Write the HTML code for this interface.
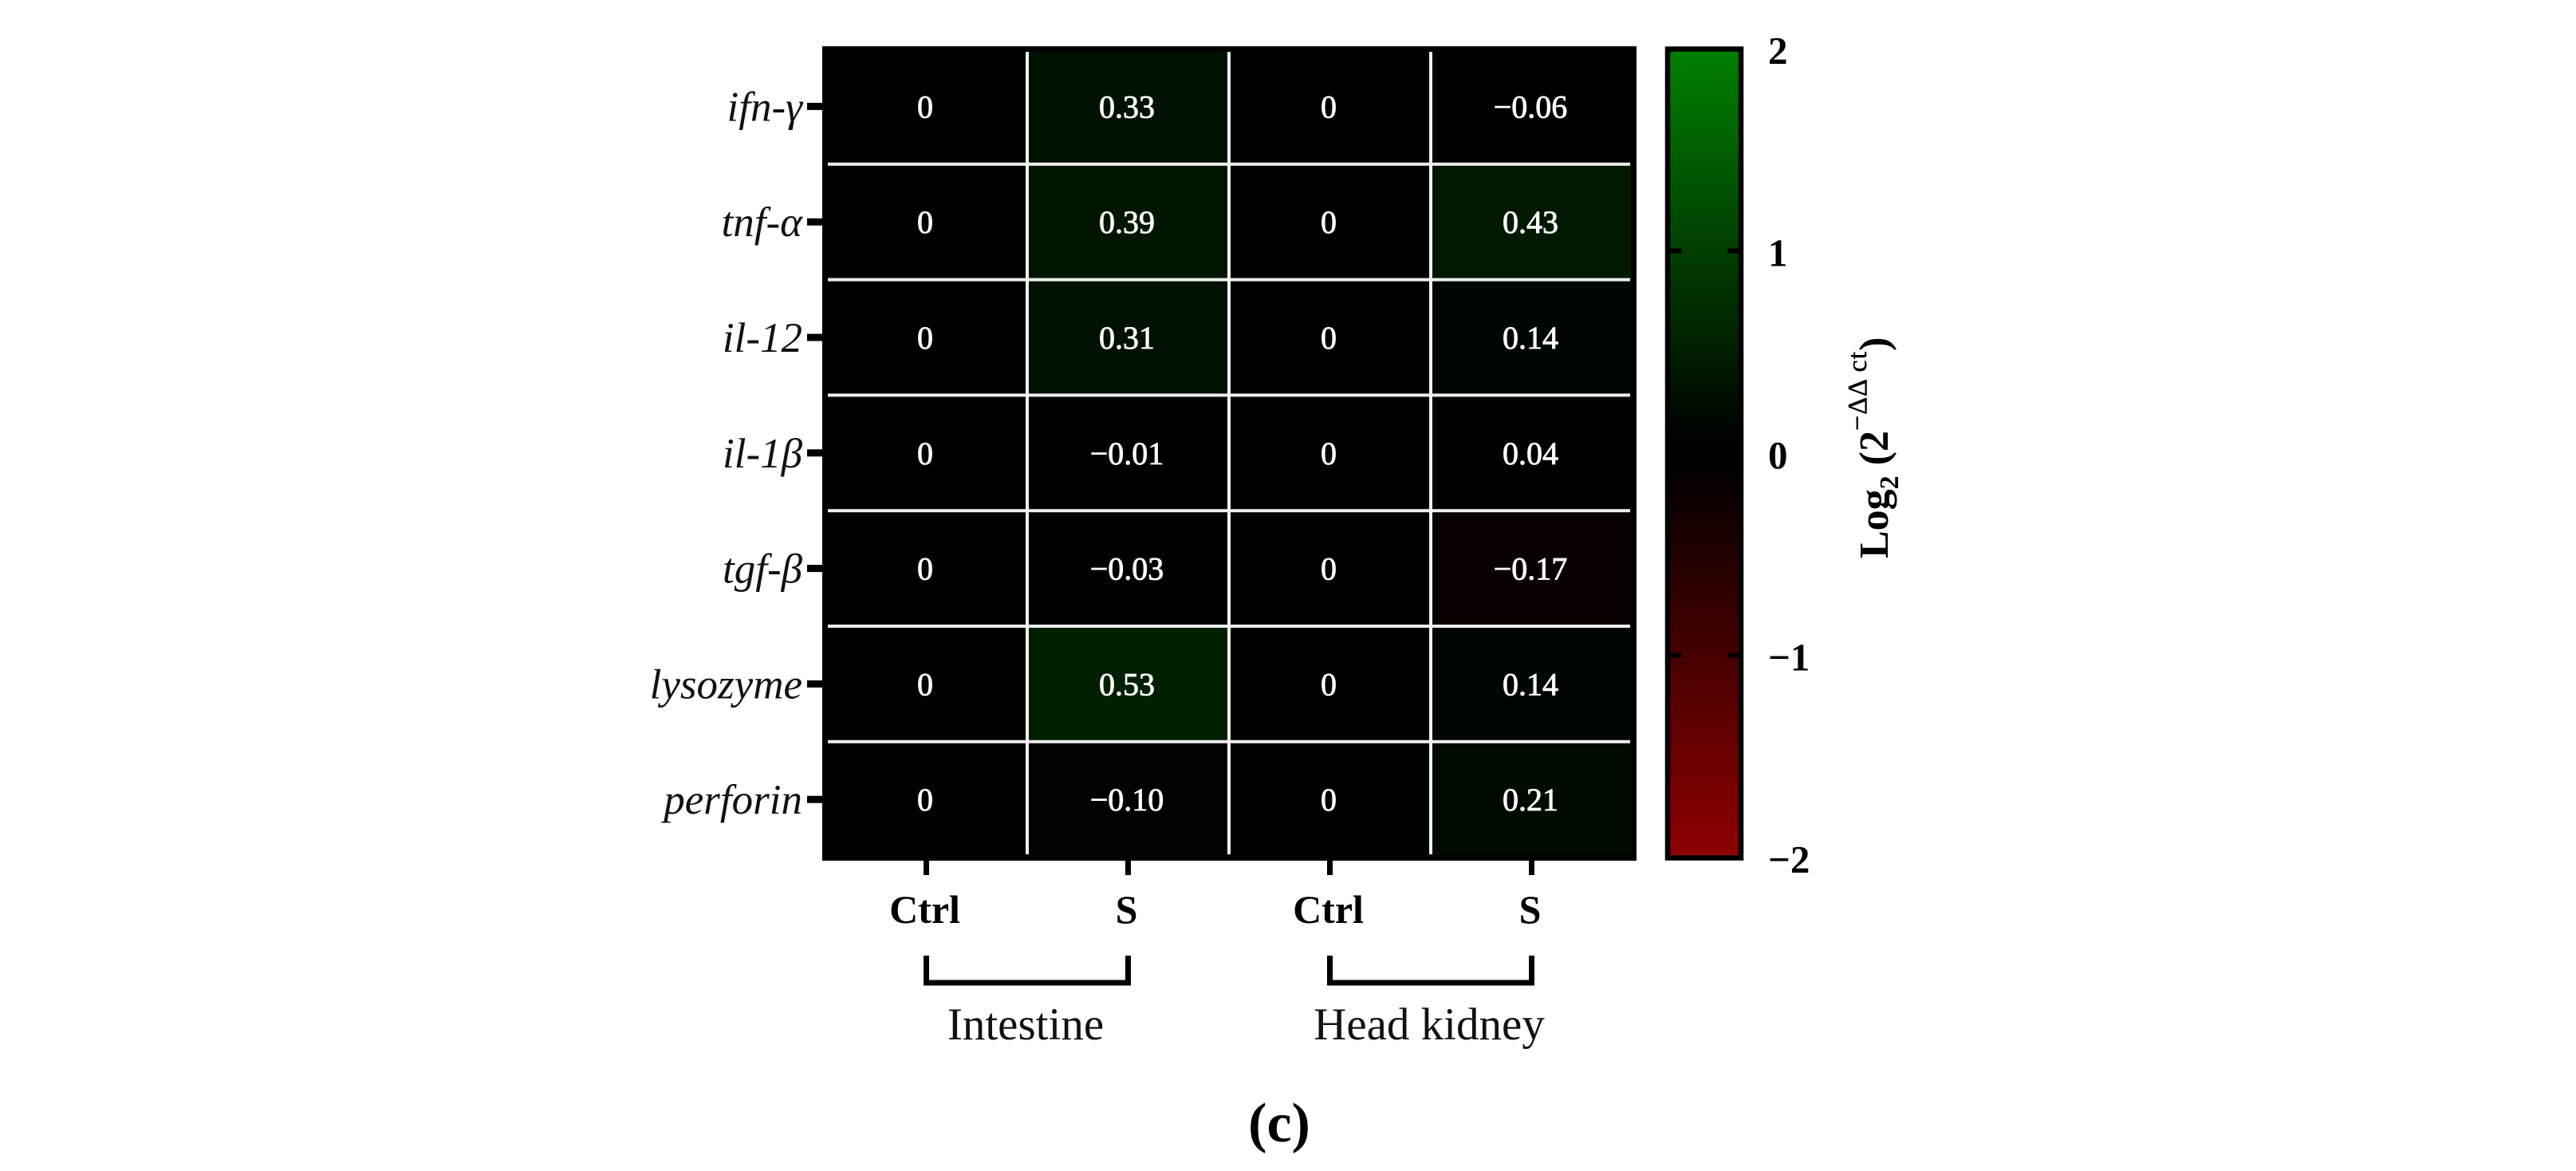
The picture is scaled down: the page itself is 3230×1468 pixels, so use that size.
<!DOCTYPE html>
<html lang="en">
<head>
<meta charset="utf-8">
<title>Gene expression heatmap</title>
<style>
  html, body { margin: 0; padding: 0; background: #fff; }
  svg { display: block; }
  text { font-family: "Liberation Serif", serif; }
</style>
</head>
<body>
<svg id="chart" xmlns="http://www.w3.org/2000/svg" width="3230" height="1468" viewBox="0 0 3230 1468">
  <defs>
    <linearGradient id="cbGrad" x1="0" y1="0" x2="0" y2="1"></linearGradient>
  </defs>
  <rect x="0" y="0" width="3230" height="1468" fill="#ffffff"/>
</svg>
<script>
const genes = ['ifn-γ', 'tnf-α', 'il-12', 'il-1β', 'tgf-β', 'lysozyme', 'perforin'];
const groups = ['Ctrl', 'S', 'Ctrl', 'S'];
const tissues = ['Intestine', 'Head kidney'];
const intestineCtrl = [0, 0, 0, 0, 0, 0, 0];
const intestineS = [0.33, 0.39, 0.31, -0.01, -0.03, 0.53, -0.10];
const kidneyCtrl = [0, 0, 0, 0, 0, 0, 0];
const kidneyS = [-0.06, 0.43, 0.14, 0.04, -0.17, 0.14, 0.21];
const colorbarTicks = [2, 1, 0, -1, -2];
const colorbarStops = [2, 1.5, 1, 0.5, 0.05, 0, -0.05, -0.5, -1, -1.5, -2];

const seriesList = [intestineCtrl, intestineS, kidneyCtrl, kidneyS];
const svg = document.getElementById('chart');
const NS = 'http://www.w3.org/2000/svg';

function xCenter(c) { return 1035 + 253 * (c + 0.5); }
function colLeft(c) { return 1035 + 253 * c; }
function rowTop(r) { return 61 + 144.8 * r; }
function yCenter(r) { return rowTop(r) + 72.4; }
function colorbarY(v) { return 568 - v * 253.5; }
function colorFor(v) {
  const t = Math.min(1, Math.max(0, Math.abs(v) - 0.05) / 1.95);
  return v >= 0
    ? 'rgb(0,' + Math.round(128 * t) + ',0)'
    : 'rgb(' + Math.round(144 * t) + ',0,0)';
}
function formatValue(v) {
  if (v === 0) return '0';
  return (v < 0 ? '−' : '') + Math.abs(v).toFixed(2);
}
function formatTick(v) { return (v < 0 ? '−' : '') + Math.abs(v); }
function make(tag, attrs, text) {
  const el = document.createElementNS(NS, tag);
  for (const k in attrs) el.setAttribute(k, attrs[k]);
  if (text !== undefined) el.textContent = text;
  svg.appendChild(el);
  return el;
}

/* heatmap base */
const plotBase = make('rect', { x: 1031, y: 58, width: 1021, height: 1021, fill: '#000' });



/* cells */
seriesList.forEach((series, c) => {
  series.forEach((v, r) => {
    const cell = make('rect', { x: colLeft(c), y: rowTop(r), width: 253, height: 144.8, fill: colorFor(v) });
    
    
  });
});

/* plot frame */
const frame = make('rect', { x: 1034.5, y: 61.5, width: 1014, height: 1014, fill: 'none', stroke: '#000', 'stroke-width': 7 });



/* grid lines */
for (let r = 1; r < genes.length; r++) {
  const line = make('rect', { x: 1038, y: rowTop(r) - 2, width: 1006, height: 4, fill: '#eeeeee' });
  
  
}
for (let c = 1; c < groups.length; c++) {
  const line = make('rect', { x: colLeft(c) - 2, y: 65, width: 4, height: 1006, fill: '#f2f2f2' });
  
  
}

/* cell values */
seriesList.forEach((series, c) => {
  series.forEach((v, r) => {
    const label = make('text', { x: xCenter(c) - 1.5, y: yCenter(r) + 14, 'text-anchor': 'middle', 'font-size': 40, fill: '#ffffff', stroke: '#ffffff', 'stroke-width': 0.8 }, formatValue(v));
    
    
  });
});

/* y axis */
genes.forEach((g, r) => {
  const tick = make('rect', { x: 1012, y: yCenter(r) - 4.5, width: 20, height: 9, fill: '#000' });
  
  
  const label = make('text', { x: 1006, y: yCenter(r) + 18, 'text-anchor': 'end', 'font-size': 53, 'font-style': 'italic', fill: '#111' }, g);
  
  
});

/* x axis */
groups.forEach((g, c) => {
  const tick = make('rect', { x: xCenter(c) - 3.5, y: 1078, width: 7, height: 19, fill: '#000' });
  
  
  const label = make('text', { x: xCenter(c) - 2, y: 1157, 'text-anchor': 'middle', 'font-size': 50, 'font-weight': 'bold', fill: '#000' }, g);
  
  
});

/* tissue brackets */
tissues.forEach((t, i) => {
  const left = xCenter(i * 2);
  const right = xCenter(i * 2 + 1);
  const bracket = make('path', {
    d: 'M' + left + ' 1198 V1232 H' + right + ' V1198',
    fill: 'none', stroke: '#000', 'stroke-width': 7, 'stroke-linejoin': 'miter'
  });
  
  
  const label = make('text', { x: (left + right) / 2 - 2, y: 1303, 'text-anchor': 'middle', 'font-size': 57, fill: '#111' }, t);
  
  
});

/* colour bar */
const grad = document.getElementById('cbGrad');
const topVal = colorbarTicks[0];
const bottomVal = colorbarTicks[colorbarTicks.length - 1];
colorbarStops.forEach((v) => {
  const stop = document.createElementNS(NS, 'stop');
  stop.setAttribute('offset', (topVal - v) / (topVal - bottomVal));
  stop.setAttribute('stop-color', colorFor(v));
  grad.appendChild(stop);
});
const cbFill = make('rect', { x: 2091, y: colorbarY(topVal), width: 92, height: colorbarY(bottomVal) - colorbarY(topVal), fill: 'url(#cbGrad)' });


const cbFrame = make('rect', { x: 2091, y: 61.5, width: 92, height: 1014, fill: 'none', stroke: '#000', 'stroke-width': 6.5 });



colorbarTicks.forEach((v) => {
  if (Math.abs(v) === 1) {
    const tickL = make('rect', { x: 2094, y: colorbarY(v) - 3, width: 14, height: 6, fill: '#000' });
    
    
    const tickR = make('rect', { x: 2166, y: colorbarY(v) - 3, width: 14, height: 6, fill: '#000' });
    
    
  }
  const label = make('text', { x: 2217, y: colorbarY(v) + 19, 'font-size': 49, 'font-weight': 'bold', fill: '#000' }, formatTick(v));
  
  
});

/* colour bar title */
const title = make('text', { transform: 'translate(2367 700) rotate(-90)', x: 0, y: 0, 'font-size': 52, 'font-weight': 'bold', fill: '#000' });


title.innerHTML = 'Log<tspan dy="13" font-size="34">2</tspan><tspan dy="-13"> (2</tspan><tspan dy="-27" font-size="34" font-weight="normal" letter-spacing="1" stroke="#000" stroke-width="0.5">−ΔΔ ct</tspan><tspan dy="27">)</tspan>';

/* panel label */
const panel = make('text', { x: 1604, y: 1431, 'text-anchor': 'middle', 'font-size': 70, 'font-weight': 'bold', fill: '#000' }, '(c)');


</script>
</body>
</html>
